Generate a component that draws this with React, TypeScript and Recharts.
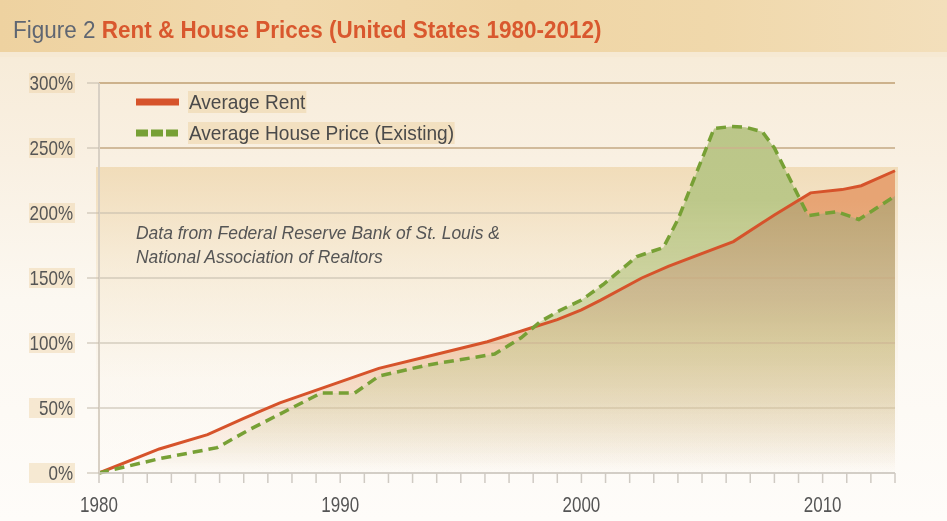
import React from 'react';
import { ComposedChart, Area, Line, XAxis, YAxis, CartesianGrid, ReferenceLine, Legend } from 'recharts';

// ---- data ----
const rentYears = [1980, 1982.5, 1984.5, 1986.0, 1987.5, 1991.6, 1993.7, 1996.1, 1997.9, 1999.0, 2000.0, 2000.8, 2002.5, 2003.6, 2006.3, 2007.5, 2008.0, 2009.5, 2010.8, 2011.6, 2013.0];
const rentValues = [0, 18.5, 29.5, 42, 54, 80.5, 90, 101, 111.5, 118, 125.5, 133, 150, 159, 178, 192.5, 198.5, 215.5, 218, 221, 232.5];
const priceYears = [1980, 1982.5, 1984.9, 1986.2, 1989.2, 1990.6, 1991.6, 1993.6, 1996.4, 1997.5, 1998.3, 1999.1, 2000.0, 2000.9, 2002.3, 2003.4, 2004.0, 2005.5, 2006.2, 2006.8, 2007.5, 2008.0, 2009.4, 2010.6, 2011.5, 2013.0];
const priceValues = [0, 11, 19.5, 33, 61.5, 61.5, 74.5, 83, 91.5, 104, 116.5, 125, 133, 145, 166.5, 173.5, 195, 265, 266.5, 266, 262.5, 250, 198, 201, 195, 213];

const yTicks = [0, 50, 100, 150, 200, 250, 300];
const xLabelYears = [1980, 1990, 2000, 2010];
const xFirstYear = 1980;
const xLastYear = 2013;

const seriesNames = { rent: 'Average Rent', price: 'Average House Price (Existing)' };
const legendOrder = ['rent', 'price'];
const annotationLines = ['Data from Federal Reserve Bank of St. Louis &', 'National Association of Realtors'];

// ---- table built from the arrays ----
const yearSet = Array.from(new Set([...rentYears, ...priceYears])).sort((a, b) => a - b);
const tableData = yearSet.map((yr) => {
  const ri = rentYears.indexOf(yr);
  const pi = priceYears.indexOf(yr);
  return { year: yr, rent: ri >= 0 ? rentValues[ri] : null, price: pi >= 0 ? priceValues[pi] : null };
});
const xTicks: number[] = [];
for (let y = xFirstYear; y <= xLastYear; y++) xTicks.push(y);

const FONT = '"Liberation Sans", Arial, sans-serif';
const RED = '#d6532b';
const GREEN = '#77a035';

const YTick = (props: any) => {
  const { y, payload } = props;
  return (
    <g>
      <rect x={29} y={y - 10} width={46} height={20} fill="rgba(236,208,160,0.42)" />
      <text transform={`translate(73,${y + 7.3}) scale(0.85,1)`} x={0} y={0} textAnchor="end"
        fontFamily={FONT} fontSize={20} fill="#555">
        {payload.value}%
      </text>
    </g>
  );
};

const XTick = (props: any) => {
  const { x, payload } = props;
  if (!xLabelYears.includes(payload.value)) return <g />;
  return (
    <text transform={`translate(${x},512) scale(0.79,1)`} x={0} y={0} textAnchor="middle"
      fontFamily={FONT} fontSize={21.5} fill="#555">
      {payload.value}
    </text>
  );
};

const renderLegend = (props: any) => {
  const { payload } = props;
  const items = legendOrder
    .map((k) => (payload || []).find((p: any) => p.dataKey === k && p.type !== 'none'))
    .filter(Boolean);
  return (
    <div style={{ position: 'relative', width: 420, height: 70 }}>
      {items.map((entry: any, i: number) => {
        const dashed = entry.dataKey === 'price';
        return (
          <div key={i} style={{ position: 'absolute', left: 0, top: i * 31, height: 26, width: 420, display: 'flex', alignItems: 'center' }}>
            <svg width={46} height={12} style={{ display: 'block', flex: 'none' }}>
              <line x1={1} x2={44} y1={6} y2={6} stroke={entry.color} strokeWidth={7}
                strokeDasharray={dashed ? '12 3' : undefined} />
            </svg>
            <span style={{ marginLeft: 7, display: 'inline-block', transform: 'scaleX(0.91)', transformOrigin: 'left center',
              fontFamily: FONT, fontSize: 21, color: '#4a4a4a', lineHeight: '22px', whiteSpace: 'nowrap',
              background: 'rgba(236,206,156,0.45)', padding: '0 1px' }}>
              {entry.value}
            </span>
          </div>
        );
      })}
    </div>
  );
};

export default function App() {
  return (
    <div style={{ position: 'absolute', left: 0, top: 0, width: 947, height: 521, overflow: 'hidden',
      background: 'linear-gradient(to bottom, #f4e4c6 0px, #f7ecd9 60px, #f9f0e2 160px, #fcf8f1 300px, #fefcf9 521px)' }}>
      <style>{'.price-area { mix-blend-mode: darken; }'}</style>
      {/* title bar */}
      <div style={{ position: 'absolute', left: 0, top: 0, width: 947, height: 52,
        background: 'linear-gradient(to right, #eed2a0 0%, #f1d9ad 30%, #efd5a5 55%, #f0d8ab 75%, #f3dfbb 100%)' }} />
      <div style={{ position: 'absolute', left: 0, top: 52, width: 947, height: 5, background: '#f6e9d3' }} />
      <div style={{ position: 'absolute', left: 13, top: 15, fontFamily: FONT, fontSize: 23.3, whiteSpace: 'nowrap',
        lineHeight: '30px', transform: 'scaleX(0.965)', transformOrigin: 'left center' }}>
        <span style={{ color: '#5f6672' }}>Figure 2 </span>
        <span style={{ color: '#d9582e', fontWeight: 700 }}>Rent &amp; House Prices (United States 1980-2012)</span>
      </div>
      {/* plot backdrop band */}
      <div style={{ position: 'absolute', left: 96, top: 167, width: 802, height: 306,
        background: 'linear-gradient(to bottom, rgba(238,214,172,0.75) 0%, rgba(242,224,192,0.5) 30%, rgba(248,240,226,0.2) 70%, rgba(250,245,238,0) 100%)' }} />
      <div style={{ position: 'absolute', left: 0, top: 0 }}>
        <ComposedChart width={947} height={521} data={tableData} margin={{ top: 83, right: 52, bottom: 0, left: 0 }}>
          <defs>
            <linearGradient id="rentFill" gradientUnits="userSpaceOnUse" x1={0} y1={83} x2={0} y2={473}>
              <stop offset="0" stopColor="rgb(231,164,116)" stopOpacity={1} />
              <stop offset="0.3" stopColor="rgb(231,164,116)" stopOpacity={1} />
              <stop offset="0.56" stopColor="rgb(232,168,120)" stopOpacity={0.72} />
              <stop offset="0.81" stopColor="rgb(234,172,130)" stopOpacity={0.32} />
              <stop offset="1" stopColor="rgb(236,176,140)" stopOpacity={0} />
            </linearGradient>
            <linearGradient id="priceFill" gradientUnits="userSpaceOnUse" x1={0} y1={83} x2={0} y2={473}>
              <stop offset="0" stopColor="rgb(186,197,136)" stopOpacity={1} />
              <stop offset="0.3" stopColor="rgb(189,200,138)" stopOpacity={1} />
              <stop offset="0.56" stopColor="rgb(194,204,145)" stopOpacity={0.72} />
              <stop offset="0.81" stopColor="rgb(198,206,150)" stopOpacity={0.32} />
              <stop offset="1" stopColor="rgb(200,206,155)" stopOpacity={0} />
            </linearGradient>
          </defs>
          <CartesianGrid vertical={false} stroke="#c2b9aa" strokeWidth={1.2} />
          <ReferenceLine y={300} stroke="#cdb28c" strokeWidth={2} />
          <ReferenceLine y={250} stroke="#cdb28c" strokeWidth={1.6} />
          <XAxis dataKey="year" type="number" domain={[xFirstYear, xLastYear]} ticks={xTicks} interval={0}
            height={48} tickSize={10} stroke="#cfcac3" strokeWidth={1.5} tick={<XTick />} allowDecimals />
          <YAxis type="number" domain={[0, 300]} ticks={yTicks} width={99} tickSize={12}
            axisLine={{ stroke: '#d8d0c4', strokeWidth: 2 }} tickLine={{ stroke: '#c2b9aa' }} tick={<YTick />} />
          <Area dataKey="rent" name={seriesNames.rent} type="linear" connectNulls stroke="none"
            fill="url(#rentFill)" fillOpacity={1} isAnimationActive={false} legendType="none" />
          <Area className="price-area" dataKey="price" name={seriesNames.price} type="linear" connectNulls stroke="none"
            fill="url(#priceFill)" fillOpacity={1} isAnimationActive={false} legendType="none" />
          <Line dataKey="rent" name={seriesNames.rent} type="linear" connectNulls stroke={RED} strokeWidth={3}
            dot={false} activeDot={false} isAnimationActive={false} />
          <Line dataKey="price" name={seriesNames.price} type="linear" connectNulls stroke={GREEN} strokeWidth={3.5}
            strokeDasharray="10 6" dot={false} activeDot={false} isAnimationActive={false} />
          <Legend content={renderLegend} wrapperStyle={{ left: 135, top: 89, width: 0, height: 0, overflow: 'visible' }} />
        </ComposedChart>
      </div>
      <div style={{ position: 'absolute', left: 136, top: 221, fontFamily: FONT, fontStyle: 'italic', fontSize: 18,
        color: '#555', lineHeight: '24px', whiteSpace: 'nowrap', transform: 'scaleX(0.97)', transformOrigin: 'left top' }}>
        {annotationLines.map((t, i) => <div key={i}>{t}</div>)}
      </div>
    </div>
  );
}
